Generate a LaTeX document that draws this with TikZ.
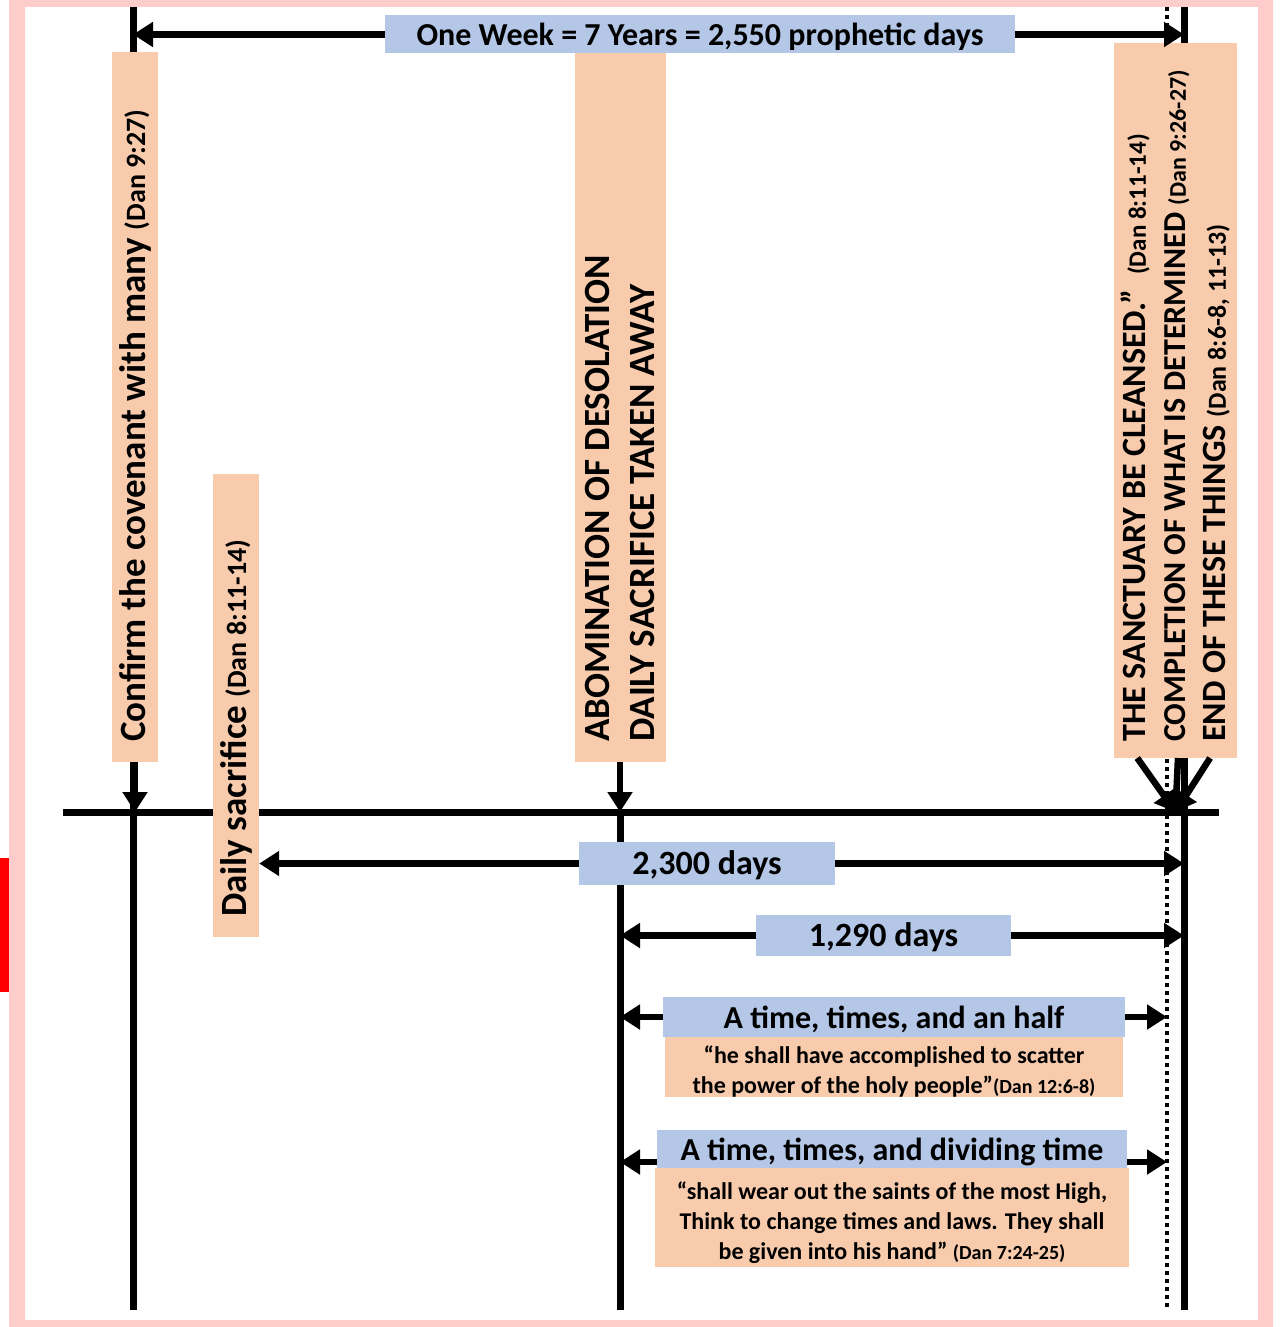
\documentclass[tikz,border=0pt]{standalone}
\usepackage{fontspec}
\setmainfont{Carlito}
\usepackage{tikz}
\usetikzlibrary{calc}
\usetikzlibrary{arrows.meta}

\definecolor{peach}{HTML}{F8CBAD}
\definecolor{paleblue}{HTML}{B4C7E7}
\definecolor{framepink}{HTML}{FFCCCC}

\newcommand{\fsHead}{\fontsize{32}{38}\selectfont}
\newcommand{\fsDays}{\fontsize{34}{40}\selectfont}
\newcommand{\fsTall}{\fontsize{37}{45}\selectfont}
\newcommand{\fsRef}{\fontsize{28}{34}\selectfont}
\newcommand{\fsQuote}{\fontsize{24}{30}\selectfont}
\newcommand{\fsCite}{\fontsize{20}{24}\selectfont}

\begin{document}
\begin{tikzpicture}[x=1pt, y=-1pt,
    timeline/.style = {line width=7pt},
    pointer/.style = {line width=6.5pt, -{Triangle[length=20pt,width=24pt]}},
    bluebox/.style = {fill=paleblue, inner sep=0pt, text height=30pt, text depth=8pt,
                      font=\bfseries\fsHead},
    peachbox/.style = {fill=peach, inner sep=0pt, align=center, font=\bfseries\fsQuote},
    upbox/.style = {fill=peach, rotate=90, anchor=west, inner ysep=0pt, inner xsep=20pt,
                    align=flush left, font=\bfseries\fsTall}
  ]
    \useasboundingbox (0,0) rectangle (1279,1327);

    % frame
    \fill[framepink, even odd rule] (9,-5) rectangle (1273,1327) (25,7) rectangle (1258,1320);
    \fill[red] (0,858) rectangle (9,992);

    % time lines
    \coordinate (aTop) at (133,7);
    \coordinate (aBot) at (133,1310);
    \coordinate (cTop) at (1184,7);
    \coordinate (cBot) at (1184,1310);
    \coordinate (dTop) at (1167,7);
    \coordinate (dBot) at (1167,1310);
    \coordinate (bBot) at (620,1310);
    \coordinate (hlW) at (63,812);
    \coordinate (hlE) at (1219,812);

    \draw[timeline] (aTop) -- (aBot);
    \draw[timeline] (cTop) -- (cBot);
    \draw[line width=3.5pt, dash pattern=on 4pt off 4pt] (dTop) -- (dBot);
    \draw[timeline] (hlW) -- (hlE);
    \draw[timeline] (hlW -| bBot) -- (bBot);

    % upright labels
    \node[upbox, minimum width=710pt, minimum height=46pt, text width=670pt] (confirm) at (135,762)
        {Confirm the covenant with many {\fsRef(Dan 9:27)}};
    \node[upbox, minimum width=463pt, minimum height=46pt, text width=423pt] (daily) at (236,937)
        {Daily sacrifice {\fsRef(Dan 8:11-14)}};
    \node[upbox, minimum width=709pt, minimum height=91pt, text width=669pt] (abom) at (620,762)
        {ABOMINATION OF DESOLATION\\DAILY SACRIFICE TAKEN AWAY};
    \node[upbox, inner xsep=16pt, minimum width=715pt, minimum height=123pt, text width=683pt,
          font=\bfseries\fontsize{34}{40}\selectfont] (sanct) at (1175.5,758)
        {THE SANCTUARY BE CLEANSED.”\ \ {\fontsize{25}{30}\selectfont(Dan 8:11-14)}\\
         {\fontsize{32}{40}\selectfont COMPLETION OF WHAT IS DETERMINED} {\fontsize{24}{30}\selectfont(Dan 9:26-27)}\\
         END OF THESE THINGS {\fontsize{26}{30}\selectfont(Dan 8:6-8, 11-13)}};

    % periods
    \node[bluebox, minimum width=630pt, minimum height=37pt] (week) at (700,34.5)
        {One Week = 7 Years = 2,550 prophetic days};
    \node[bluebox, minimum width=256pt, minimum height=43pt, font=\bfseries\fsDays] (d2300) at (707,863.5)
        {2,300 days};
    \node[bluebox, minimum width=255pt, minimum height=41pt, font=\bfseries\fsDays] (d1290) at (883.5,935.5)
        {1,290 days};
    \node[bluebox, minimum width=462pt, minimum height=40pt] (half) at (894,1017)
        {A time, times, and an half};
    \node[peachbox, minimum width=458pt, minimum height=60pt, text height=56pt] (halfq) at (894,1067)
        {“he shall have accomplished to scatter\\the power of the holy people”{\fsCite(Dan 12:6-8)}};
    \node[bluebox, minimum width=470pt, minimum height=38pt] (divide) at (892,1149)
        {A time, times, and dividing time};
    \node[peachbox, minimum width=474pt, minimum height=99pt, text height=88pt] (divideq) at (892,1217.5)
        {“shall wear out the saints of the most High,\\Think to change times and laws. They shall\\
         be given into his hand” {\fsCite(Dan 7:24-25)}};

    % arrows
    \draw[pointer] (week.west) -- (week.west -| aTop);
    \draw[pointer] (week.east) -- (week.east -| cTop);
    \draw[pointer] (confirm.west) -- (confirm.west |- hlW);
    \draw[pointer] (abom.west) -- (abom.west |- hlW);
    \foreach \f in {0.19,0.52,0.78}
        \draw[pointer] ($(sanct.north west)!\f!(sanct.south west)$) -- (sanct.west |- hlW);
    \draw[pointer] (d2300.west) -- (d2300.west -| daily.south);
    \draw[pointer] (d2300.east) -- (d2300.east -| cTop);
    \draw[pointer] (d1290.west) -- (d1290.west -| bBot);
    \draw[pointer] (d1290.east) -- (d1290.east -| cTop);
    \draw[pointer] (half.west) -- (half.west -| bBot);
    \draw[pointer] (half.east) -- (half.east -| dTop);
    \coordinate (divL) at ([yshift=-13pt]divide.west);
    \coordinate (divR) at ([yshift=-13pt]divide.east);
    \draw[pointer] (divL) -- (divL -| bBot);
    \draw[pointer] (divR) -- (divR -| dTop);

\end{tikzpicture}
\end{document}
